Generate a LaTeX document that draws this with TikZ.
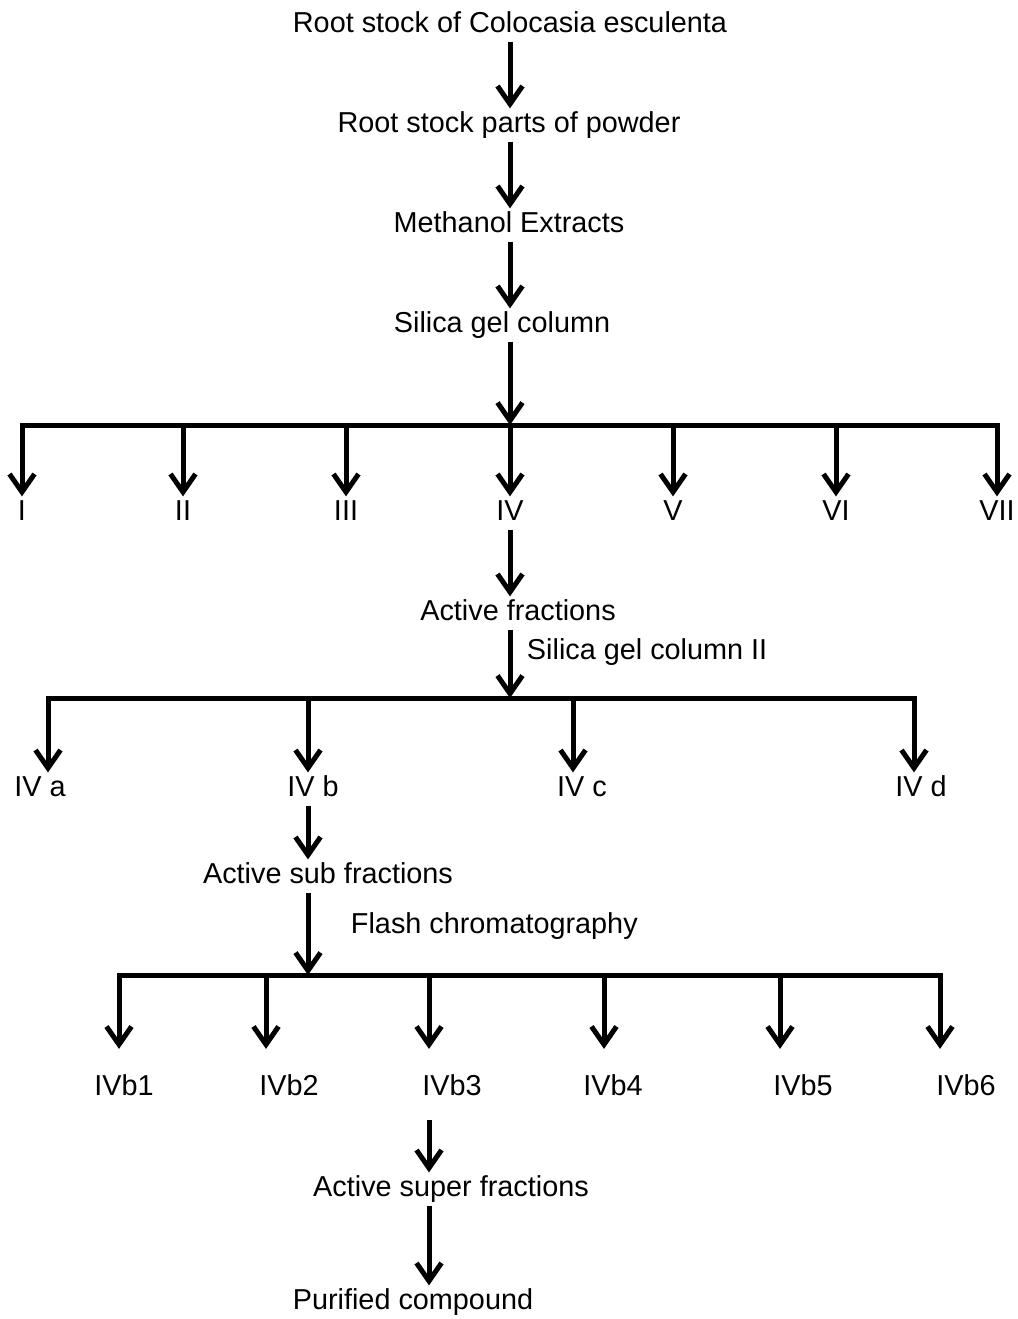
\documentclass[tikz,border=0pt]{standalone}
\usepackage{fontspec}
\setmainfont{Liberation Sans}
\usepackage{tikz}
\usetikzlibrary{calc}
\usetikzlibrary{arrows.meta}

\tikzset{
	lbl/.style={inner sep=1.5pt, text height=12pt, text depth=3.5pt, font=\fontsize{16.4}{19}\selectfont},
	flow/.style={line width=1mm, -{Straight Barb[length=3.6mm,width=5mm]}},
	bar/.style={line width=1mm, line cap=rect},
}

\begin{document}
\begin{tikzpicture}[x=0.2mm, y=-0.2mm]
			
			\useasboundingbox (0,0) rectangle (1018,1319);
			
			% main column
			\node[lbl] (root) at (510,25) {Root stock of Colocasia esculenta};
			\node[lbl] (powder) at (509,125) {Root stock parts of powder};
			\node[lbl] (meth) at (509,225) {Methanol Extracts};
			\node[lbl] (silica) at (502,325) {Silica gel column};
			\draw[flow] (root.south -| 510,0) -- (powder.north -| 510,0);
			\draw[flow] (powder.south -| 510,0) -- (meth.north -| 510,0);
			\draw[flow] (meth.south -| 510,0) -- (silica.north -| 510,0);
			
			% first column fractions
			\coordinate (top) at (510,425);
			\draw[flow] (silica.south -| top) -- (top);
			\foreach \x/\t [count=\i] in {22/I,183/II,346/III,510/IV,673/V,836/VI,997/VII}{
				\coordinate (t\i) at (\x,425);
				\node[lbl] (f\i) at (\x,513) {\t};
				\draw[flow] (t\i) -- (t\i |- f\i.north);
			}
			\draw[bar] (t1) -- (t7);
			
			\node[lbl] (act) at (518,613) {Active fractions};
			\node[lbl, anchor=west] (col2) at (524,652) {Silica gel column II};
			\draw[flow] (f4.south) -- (f4.south |- act.north);
			
			% second column
			\coordinate (mid) at (510,698);
			\draw[flow] (act.south -| mid) -- (mid);
			\foreach \x/\c/\t [count=\i] in {48/40/IV a,308/313/IV b,573/582/IV c,914/921/IV d}{
				\coordinate (u\i) at (\x,698);
				\node[lbl] (g\i) at (\c,789) {\t};
				\draw[flow] (u\i) -- (u\i |- g\i.north);
			}
			\draw[bar] (u1) -- (u4);
			
			\node[lbl] (sub) at (328,876) {Active sub fractions};
			\draw[flow] (u2 |- g2.south) -- (u2 |- sub.north);
			\node[lbl, anchor=west] (flash) at (348,926) {Flash chromatography};
			
			% flash chromatography
			\coordinate (low) at (308,975);
			\draw[flow] (sub.south -| low) -- (low);
			\foreach \x/\c/\t [count=\i] in {119/124/IVb1,266/289/IVb2,429/452/IVb3,604/613/IVb4,780/803/IVb5,940/966/IVb6}{
				\coordinate (v\i) at (\x,975);
				\node[lbl] (h\i) at (\c,1088) {\t};
				\draw[flow, shorten >=4.5mm] (v\i) -- (v\i |- h\i.north);
			}
			\draw[bar] (v1) -- (v6);
			
			\node[lbl] (sup) at (451,1189) {Active super fractions};
			\node[lbl] (pur) at (413,1302) {Purified compound};
			\draw[flow, shorten <=3mm] (v3 |- h3.south) -- (v3 |- sup.north);
			\draw[flow] (v3 |- sup.south) -- (v3 |- pur.north);
			
	\end{tikzpicture}
\end{document}
